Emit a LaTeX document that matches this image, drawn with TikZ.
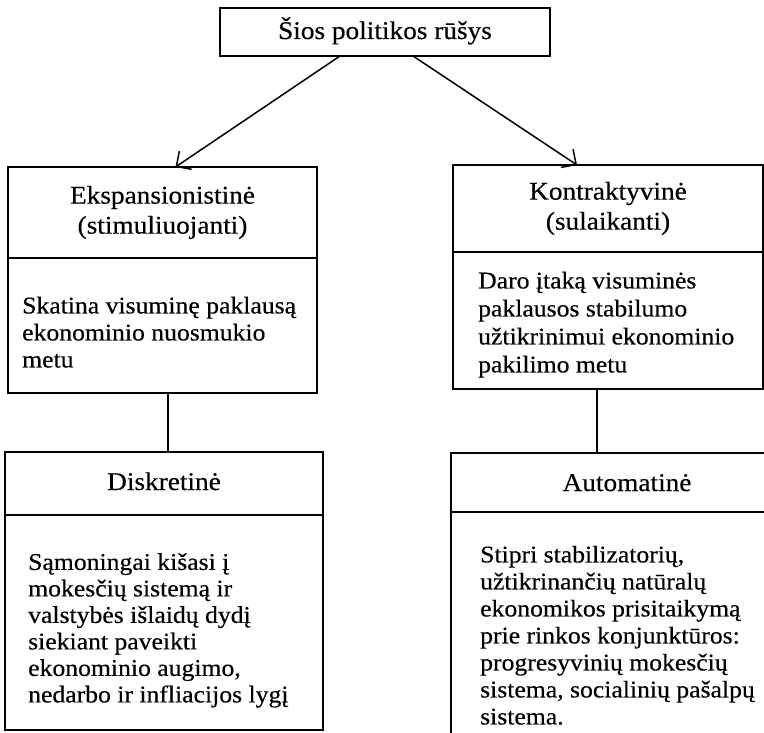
\documentclass[tikz,border=0pt]{standalone}
\usepackage{fontspec}
\setmainfont{Liberation Serif}[FakeStretch=1.07,FakeBold=0.4]
\usetikzlibrary{arrows.meta}
\tikzset{
  frame/.style={draw, line width=2pt, inner sep=0pt, outer sep=0pt, align=center},
  headfont/.style={font=\fontsize{25.5}{30}\selectfont},
  txt/.style={inner sep=0pt, align=left, anchor=north west},
  bodyfont/.style={font=\fontsize{24}{#1}\selectfont},
  arr/.style={line width=1.5pt, -{Straight Barb[length=11pt,width=22pt,line width=1.5pt]}},
  link/.style={line width=2pt}
}
\begin{document}
\begin{tikzpicture}[x=1pt,y=-1pt]
\useasboundingbox (0,0) rectangle (764,733);
\fill[white] (0,0) rectangle (764,733);
\node[frame, headfont, minimum width=330pt, minimum height=48pt, text height=19pt, text depth=5pt] (top) at (385,32) {Šios politikos rūšys};
% left column
\node[frame, headfont, minimum width=309pt, minimum height=91pt] (exph) at (162.5,212.5) {Ekspansionistinė\\(stimuliuojanti)};
\node[frame, minimum width=309pt, minimum height=135pt] (expb) at (162.5,325.5) {};
\node[txt, bodyfont=27] (expt) at (22,296.6) {Skatina visuminę paklausą\\ekonominio nuosmukio\\metu};
\node[frame, headfont, minimum width=318pt, minimum height=63pt, text height=18pt, text depth=5pt] (disch) at (164,483.5) {Diskretinė};
\node[frame, minimum width=318pt, minimum height=215pt] (discb) at (164,622.5) {};
\node[txt, bodyfont=26.5] (disct) at (28,553) {Sąmoningai kišasi į\\mokesčių sistemą ir\\valstybės išlaidų dydį\\siekiant paveikti\\ekonominio augimo,\\nedarbo ir infliacijos lygį};
% right column
\node[frame, headfont, minimum width=310pt, minimum height=87pt] (conh) at (608,208.5) {Kontraktyvinė\\(sulaikanti)};
\node[frame, minimum width=310pt, minimum height=137pt] (conb) at (608,320.5) {};
\node[txt, bodyfont=28] (cont) at (478,271.6) {Daro įtaką visuminės\\paklausos stabilumo\\užtikrinimui ekonominio\\pakilimo metu};
\node[frame, minimum width=329pt, minimum height=59pt] (autoh) at (615.5,482.5) {};
\node[headfont, inner sep=0pt, anchor=base] (autol) at (627,491) {Automatinė};
\node[frame, minimum width=329pt, minimum height=248pt] (autob) at (615.5,636) {};
\node[txt, bodyfont=27] (autot) at (480,545.6) {Stipri stabilizatorių,\\užtikrinančių natūralų\\ekonomikos prisitaikymą\\prie rinkos konjunktūros:\\progresyvinių mokesčių\\sistema, socialinių pašalpų\\sistema.};
% connectors
\draw[arr] ([xshift=-45pt]top.south) -- ([xshift=13pt]exph.north);
\draw[arr] ([xshift=28pt]top.south) -- ([xshift=-31pt]conh.north);
\draw[link] ([xshift=5.5pt]expb.south) -- ([xshift=4pt]disch.north);
\draw[link] ([xshift=-11pt]conb.south) -- ([xshift=-18.5pt]autoh.north);
\end{tikzpicture}
\end{document}
